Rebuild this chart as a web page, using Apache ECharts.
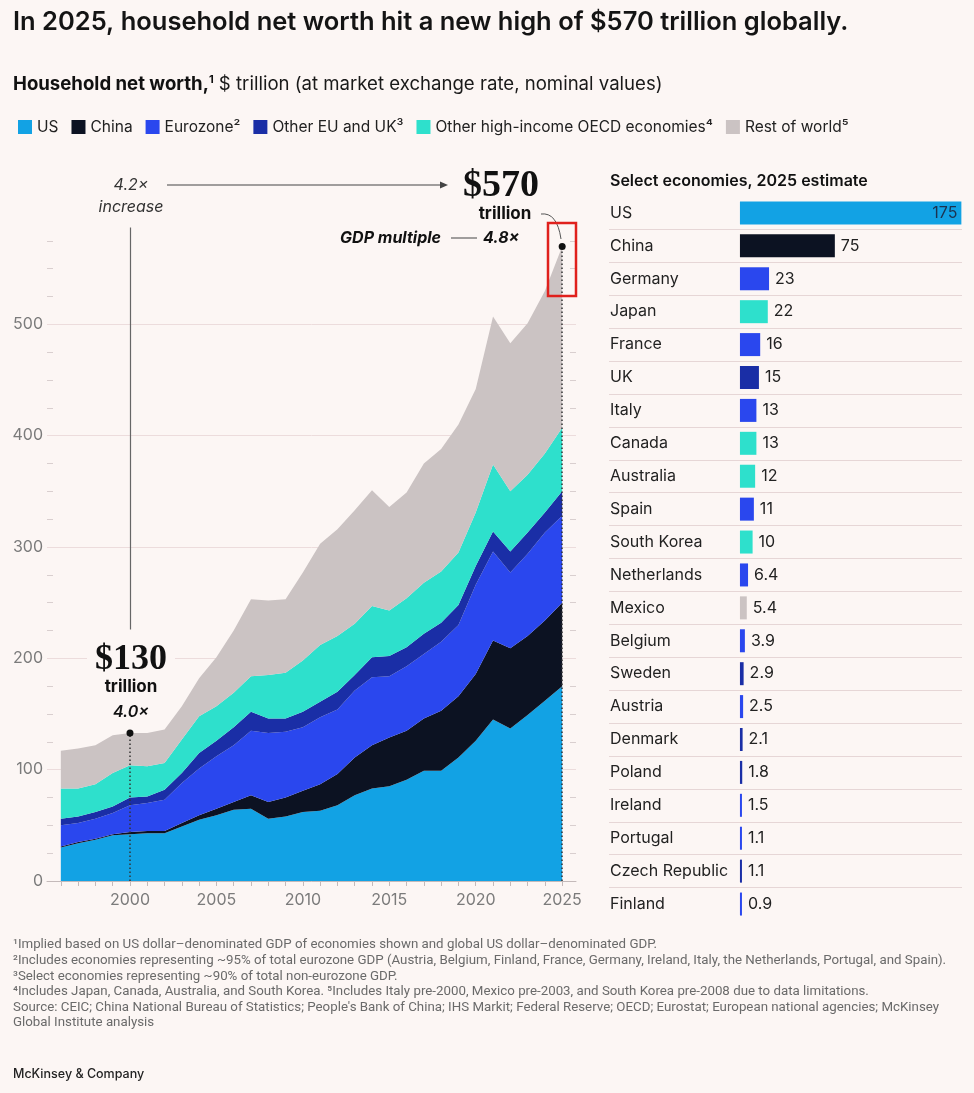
<!DOCTYPE html>
<html>
<head>
<meta charset="utf-8">
<script src="https://cdn.jsdelivr.net/npm/echarts@6.0.0/dist/echarts.min.js"></script>
<style>
  html, body, #main { margin: 0; width: 100%; height: 100vh; background: #fcf6f4; }
</style>
</head>
<body>
<div id="main"></div>
<script>
// household net worth, $ trillion, by region (stacked)
const years = [1996, 1997, 1998, 1999, 2000, 2001, 2002, 2003, 2004, 2005,
               2006, 2007, 2008, 2009, 2010, 2011, 2012, 2013, 2014, 2015,
               2016, 2017, 2018, 2019, 2020, 2021, 2022, 2023, 2024, 2025];
const us       = [30, 34, 37, 41, 42, 43, 43, 49, 55, 59, 64, 65, 56, 58, 62, 63, 68, 77, 83, 85, 91, 99, 99, 111, 126, 145, 137, 149, 162, 175];
const china    = [1, 1, 1, 1, 2, 2, 2, 3, 4, 6, 7, 12, 15, 17, 19, 24, 28, 34, 39, 44, 44, 47, 54, 55, 60, 71, 72, 71, 72, 75];
const eurozone = [19, 17, 18, 19, 24, 25, 28, 36, 42, 47, 51, 58, 62, 59, 57, 60, 58, 60, 61, 55, 58, 58, 62, 64, 80, 80, 68, 74, 79, 78];
const otherEu  = [6, 6, 6, 6, 7, 6, 9, 9, 14, 14, 16, 17, 13, 12, 14, 14, 16, 14, 18, 18, 17, 18, 17, 18, 17, 18, 19, 19, 18, 22];
const oecd     = [27, 25, 25, 30, 29, 27, 24, 30, 33, 31, 31, 32, 39, 41, 46, 51, 50, 46, 46, 41, 44, 46, 46, 47, 48, 60, 54, 52, 53, 57];
const rest     = [34, 36, 35, 34, 29, 30, 30, 30, 34, 44, 56, 69, 67, 66, 79, 91, 96, 102, 104, 93, 95, 107, 110, 115, 111, 133, 133, 136, 146, 163];
const yearLabels = [2000, 2005, 2010, 2015, 2020, 2025];

// select economies, 2025 estimate
const countries = ['US', 'China', 'Germany', 'Japan', 'France', 'UK', 'Italy', 'Canada', 'Australia', 'Spain',
                   'South Korea', 'Netherlands', 'Mexico', 'Belgium', 'Sweden', 'Austria', 'Denmark', 'Poland',
                   'Ireland', 'Portugal', 'Czech Republic', 'Finland'];
const countryValues = [175, 75, 23, 22, 16, 15, 13, 13, 12, 11, 10, 6.4, 5.4, 3.9, 2.9, 2.5, 2.1, 1.8, 1.5, 1.1, 1.1, 0.9];
const countryGroups = ['us', 'china', 'euro', 'oecd', 'euro', 'otherEu', 'euro', 'oecd', 'oecd', 'euro',
                       'oecd', 'euro', 'rest', 'euro', 'otherEu', 'euro', 'otherEu', 'otherEu',
                       'euro', 'euro', 'otherEu', 'euro'];

const BG = '#fcf6f4';
const FONT = 'Inter, "Noto Sans", sans-serif';
const COLORS = {
  us: '#12a2e4', china: '#0c1222', euro: '#2a47ee',
  otherEu: '#1a2ea6', oecd: '#2ee0cc', rest: '#cbc3c3'
};

const regions = [
  {name: 'US', key: 'us', values: us},
  {name: 'China', key: 'china', values: china},
  {name: 'Eurozone²', key: 'euro', values: eurozone},
  {name: 'Other EU and UK³', key: 'otherEu', values: otherEu},
  {name: 'Other high-income OECD economies⁴', key: 'oecd', values: oecd},
  {name: 'Rest of world⁵', key: 'rest', values: rest}
];

const totals = years.map((y, i) => regions.reduce((s, r) => s + r.values[i], 0));
const i2000 = years.indexOf(2000);
const i2025 = years.indexOf(2025);

var chart = echarts.init(document.getElementById('main'));

// value first, year second, so the stack sums the values and not the years
const areaSeries = regions.map((r, idx) => {
  const s = {
    name: r.name,
    type: 'line',
    stack: 'total',
    xAxisIndex: 0,
    yAxisIndex: 0,
    symbol: 'none',
    silent: true,
    lineStyle: {width: 0},
    areaStyle: {color: COLORS[r.key], opacity: 1},
    itemStyle: {color: COLORS[r.key]},
    encode: {x: 1, y: 0},
    data: years.map((y, i) => [r.values[i], y])
  };
  if (idx === regions.length - 1) {
    s.markPoint = {
      silent: true,
      symbol: 'circle',
      symbolSize: 7,
      itemStyle: {color: '#111'},
      label: {show: false},
      data: [
        {coord: [2000, totals[i2000]]},
        {coord: [2025, totals[i2025]]}
      ]
    };
    const dotted = {color: '#333', width: 1.5, type: [1.5, 2.5]};
    const solid = {color: '#666', width: 1.2, type: 'solid'};
    s.markLine = {
      silent: true,
      symbol: ['none', 'none'],
      label: {show: false},
      data: [
        [{coord: [2000, 0], lineStyle: dotted}, {coord: [2000, totals[i2000]], lineStyle: dotted}],
        [{coord: [2025, 0], lineStyle: dotted}, {coord: [2025, totals[i2025]], lineStyle: dotted}],
        [{coord: [2000, 226], lineStyle: solid}, {coord: [2000, 587], lineStyle: solid}]
      ]
    };
  }
  return s;
});

const barSeries = {
  type: 'bar',
  xAxisIndex: 1,
  yAxisIndex: 2,
  barWidth: 23,
  barMinHeight: 2,
  silent: true,
  label: {show: true, position: 'right', distance: 6, color: '#222', fontSize: 16, fontFamily: FONT},
  data: countryValues.map((v, i) => {
    const item = {value: v, itemStyle: {color: COLORS[countryGroups[i]]}};
    if (i === 0) item.label = {position: 'insideRight', distance: 4, color: '#1c3350'};
    return item;
  })
};

const footnotes = [
  '¹Implied based on US dollar–denominated GDP of economies shown and global US dollar–denominated GDP.',
  '²Includes economies representing ~95% of total eurozone GDP (Austria, Belgium, Finland, France, Germany, Ireland, Italy, the Netherlands, Portugal, and Spain).',
  '³Select economies representing ~90% of total non-eurozone GDP.',
  '⁴Includes Japan, Canada, Australia, and South Korea. ⁵Includes Italy pre-2000, Mexico pre-2003, and South Korea pre-2008 due to data limitations.',
  'Source: CEIC; China National Bureau of Statistics; People\'s Bank of China; IHS Markit; Federal Reserve; OECD; Eurostat; European national agencies; McKinsey',
  'Global Institute analysis'
];

function txt(x, y, text, font, extra) {
  return {
    type: 'text', x: x, y: y, z: 100,
    style: Object.assign({text: text, font: font, fill: '#1a1a1a', align: 'left', verticalAlign: 'middle'}, extra || {})
  };
}

const graphics = [
  txt(13, 22, 'In 2025, household net worth hit a new high of $570 trillion globally.', '600 25.5px ' + FONT, {fill: '#141414'}),
  {
    type: 'text', x: 13, y: 84, z: 100,
    style: {
      text: '{b|Household net worth,}{s|1} $ trillion (at market exchange rate, nominal values)',
      font: '18.6px ' + FONT, fill: '#1a1a1a', verticalAlign: 'middle',
      rich: {
        b: {font: '700 18.6px ' + FONT, fill: '#111'},
        s: {font: '700 11px ' + FONT, fill: '#111', padding: [0, 0, 8, 0]}
      }
    }
  },
  txt(610, 181, 'Select economies, 2025 estimate', '600 16px ' + FONT, {fill: '#111'}),
  // 4.2x increase arrow
  txt(131, 185, '4.2×', 'italic 16px ' + FONT, {align: 'center', fill: '#333'}),
  txt(131, 207, 'increase', 'italic 16px ' + FONT, {align: 'center', fill: '#333'}),
  {type: 'line', z: 100, shape: {x1: 167, y1: 185, x2: 441, y2: 185}, style: {stroke: '#444', lineWidth: 1}},
  {type: 'polygon', z: 100, shape: {points: [[448, 185], [440, 181.5], [440, 188.5]]}, style: {fill: '#444'}},
  // $570 callout
  txt(501, 186, '$570', 'bold 38px "Liberation Serif", serif', {align: 'center', fill: '#111'}),
  txt(505, 214, 'trillion', '700 17px ' + FONT, {align: 'center', fill: '#111'}),
  {type: 'bezierCurve', z: 100, shape: {x1: 541, y1: 214, cpx1: 557, cpy1: 212, x2: 561, y2: 239}, style: {stroke: '#555', lineWidth: 1, fill: null}},
  txt(441, 238, 'GDP multiple', 'italic 700 16px ' + FONT, {align: 'right', fill: '#111'}),
  {type: 'line', z: 100, shape: {x1: 451, y1: 238, x2: 477, y2: 238}, style: {stroke: '#444', lineWidth: 1}},
  txt(483, 238, '4.8×', 'italic 700 16px ' + FONT, {fill: '#111'}),
  {type: 'rect', z: 100, shape: {x: 548, y: 223, width: 28, height: 73}, style: {stroke: '#e0201c', lineWidth: 2.5, fill: null}},
  // $130 callout
  txt(131, 660, '$130', 'bold 36px "Liberation Serif", serif', {align: 'center', fill: '#111', backgroundColor: BG, padding: [0, 8]}),
  txt(131, 687, 'trillion', '700 17px ' + FONT, {align: 'center', fill: '#111'}),
  txt(131, 712, '4.0×', 'italic 600 16px ' + FONT, {align: 'center', fill: '#111'}),
  txt(13, 1074, 'McKinsey & Company', '500 12.5px ' + FONT, {fill: '#222'})
];
footnotes.forEach((f, i) => {
  graphics.push(txt(13, 945 + i * 15.6, f, '13.3px Roboto, ' + FONT, {fill: '#6a6a6a'}));
});

var option = {
  backgroundColor: BG,
  animation: false,
  textStyle: {fontFamily: FONT},
  legend: {
    left: 13, top: 114,
    icon: 'rect', itemWidth: 14, itemHeight: 14, itemGap: 13,
    selectedMode: false,
    textStyle: {fontSize: 15.5, color: '#222', fontFamily: FONT},
    data: regions.map(r => r.name)
  },
  grid: [
    {left: 47, top: 213, width: 529, height: 668, outerBoundsMode: 'none'},
    {left: 609, top: 196.5, width: 353, height: 724, outerBoundsMode: 'none'}
  ],
  xAxis: [
    {
      type: 'value', gridIndex: 0, min: 1995.2, max: 2025.8,
      axisLine: {show: true, lineStyle: {color: '#c4baba', width: 1}},
      axisTick: {show: true, customValues: years, length: 5, lineStyle: {color: '#c4baba'}},
      axisLabel: {customValues: yearLabels, formatter: v => String(v), color: '#7b7b7b', fontSize: 16, margin: 11, fontFamily: FONT},
      splitLine: {show: false}
    },
    {type: 'value', gridIndex: 1, min: -103.5, max: 175.5, show: false}
  ],
  yAxis: [
    {
      type: 'value', gridIndex: 0, position: 'left', min: 0, max: 600, interval: 100,
      axisLine: {show: false},
      axisTick: {show: false, inside: true},
      minorTick: {show: true, splitNumber: 4, length: 6, lineStyle: {color: '#d9cfcf'}},
      axisLabel: {formatter: v => (v === 600 ? '' : v), color: '#7b7b7b', fontSize: 16, margin: 4, fontFamily: FONT},
      splitLine: {show: true, showMaxLine: false, lineStyle: {color: '#ecdcdc'}}
    },
    {
      type: 'value', gridIndex: 0, position: 'right', min: 0, max: 600, interval: 100,
      axisLine: {show: false},
      axisTick: {show: false, inside: true},
      minorTick: {show: true, splitNumber: 4, length: 6, lineStyle: {color: '#d9cfcf'}},
      axisLabel: {show: false},
      splitLine: {show: false}
    },
    {
      type: 'category', gridIndex: 1, data: countries, inverse: true,
      axisLine: {show: false},
      axisTick: {show: false},
      axisLabel: {inside: true, margin: 1, color: '#222', fontSize: 16, fontFamily: FONT},
      splitLine: {show: true, interval: 0, showMinLine: false, showMaxLine: false, lineStyle: {color: '#e6d6d6'}}
    }
  ],
  series: areaSeries.concat([barSeries]),
  graphic: graphics
};

chart.setOption(option);
window.onresize = chart.resize;
</script>
</body>
</html>
